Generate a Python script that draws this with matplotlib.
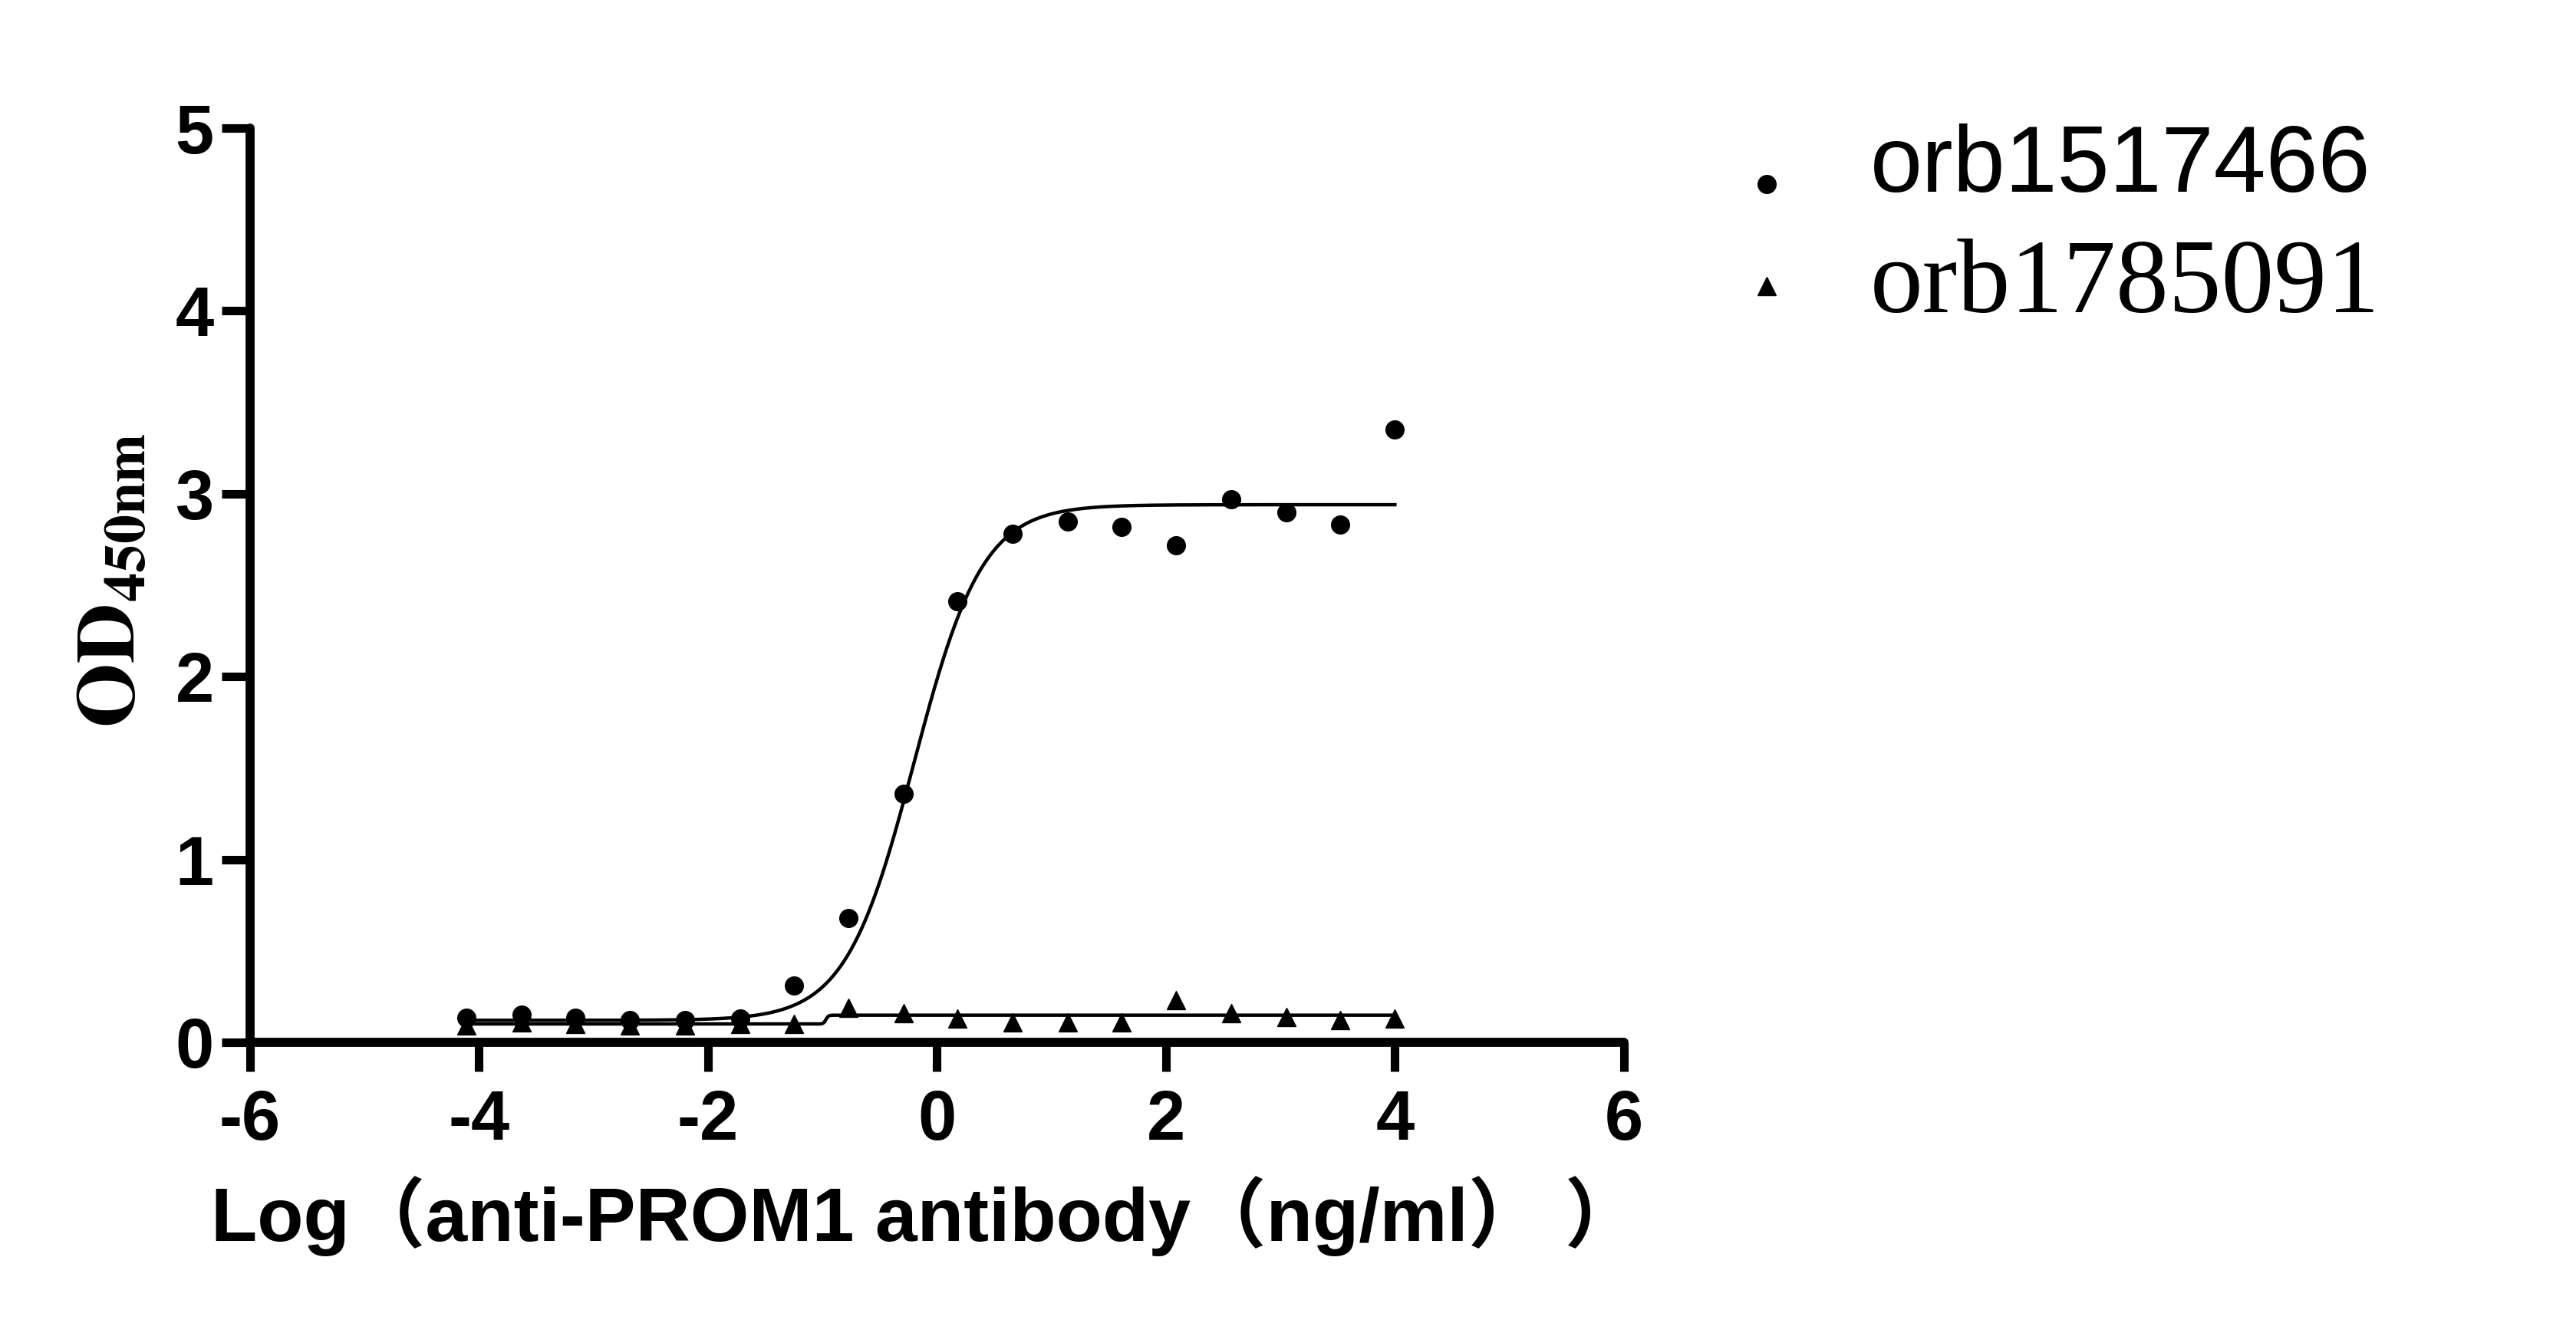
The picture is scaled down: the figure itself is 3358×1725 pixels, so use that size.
import numpy as np
import matplotlib
matplotlib.use("Agg")
import matplotlib.pyplot as plt
from matplotlib.lines import Line2D
from matplotlib.font_manager import FontProperties
from matplotlib.legend_handler import HandlerLine2D

plt.rcParams["mathtext.fontset"] = "stix"

# ---- data ----
log_conc = [4.00, 3.52, 3.05, 2.57, 2.09, 1.61, 1.14, 0.66, 0.18,
            -0.29, -0.77, -1.25, -1.72, -2.20, -2.68, -3.16, -3.63, -4.11]
od_orb1517466 = [3.35, 2.83, 2.90, 2.97, 2.72, 2.82, 2.85, 2.78, 2.41,
                 1.36, 0.68, 0.31, 0.13, 0.12, 0.12, 0.135, 0.15, 0.135]
od_orb1785091 = [0.13, 0.12, 0.14, 0.16, 0.23, 0.11, 0.11, 0.11, 0.13,
                 0.16, 0.19, 0.10, 0.10, 0.09, 0.09, 0.10, 0.11, 0.09]
series_names = ["orb1517466", "orb1785091"]
# four-parameter logistic fit parameters (bottom, top, logEC50, hill)
fit_orb1517466 = [0.12, 2.94, -0.20, 1.45]
fit_orb1785091 = [0.100, 0.148, -0.97, 40.0]
x_ticks = [-6, -4, -2, 0, 2, 4, 6]
y_ticks = [0, 1, 2, 3, 4, 5]
x_label = "Log（anti-PROM1 antibody（ng/ml） ）"
y_label = r"$\mathbf{OD}_{\mathbf{450nm}}$"


def four_pl(x, p):
    b, t, ec, h = p
    return b + (t - b) / (1.0 + 10 ** ((ec - x) * h))


class ShiftedHandler(HandlerLine2D):
    """Legend handler that drops the marker a little below the row centre."""
    def __init__(self, dy, **kw):
        super().__init__(**kw)
        self.dy = dy

    def create_artists(self, legend, orig_handle, xdescent, ydescent,
                       width, height, fontsize, trans):
        arts = super().create_artists(legend, orig_handle, xdescent, ydescent,
                                      width, height, fontsize, trans)
        for a in arts:
            a.set_ydata(np.asarray(a.get_ydata(), dtype=float) - self.dy)
        return arts


fig = plt.figure(figsize=(33.58, 17.25), dpi=100)
ax = fig.add_axes([0.09708, 0.2122, 0.5333, 0.6910])

xs = np.linspace(min(log_conc), max(log_conc), 800)
ax.plot(xs, four_pl(xs, fit_orb1517466), color="black", lw=3.2, zorder=2)
ax.plot(xs, four_pl(xs, fit_orb1785091), color="black", lw=3.2, zorder=2)
ax.plot(log_conc, od_orb1517466, linestyle="none", marker="o", ms=17,
        color="black", zorder=3)
ax.plot(log_conc, od_orb1785091, linestyle="none", marker="^", ms=17,
        color="black", zorder=3)

ax.set_xlim(-6, 6)
ax.set_ylim(0, 5)
ax.set_xticks(x_ticks)
ax.set_yticks(y_ticks)
ax.set_xticklabels([str(v) for v in x_ticks])
ax.set_yticklabels([str(v) for v in y_ticks])
for s in ["top", "right"]:
    ax.spines[s].set_visible(False)
for s in ["left", "bottom"]:
    ax.spines[s].set_linewidth(8.5)
    ax.spines[s].set_capstyle("round")
ax.tick_params(axis="x", length=27, width=8.0, pad=17, direction="out")
ax.tick_params(axis="y", length=27, width=8.0, pad=7, direction="out")
for lab in ax.get_xticklabels() + ax.get_yticklabels():
    lab.set_fontfamily("Liberation Sans")
    lab.set_fontweight("bold")
    lab.set_fontsize(65)

ax.set_xlabel(x_label, fontsize=71, fontweight="bold",
              family=["Liberation Sans", "Noto Sans CJK SC"])
ax.xaxis.label.set_verticalalignment("baseline")
ax.xaxis.set_label_coords(0.492, -0.2173)

ax.set_ylabel(y_label, fontsize=78)
ax.yaxis.label.set_verticalalignment("baseline")
ax.yaxis.set_label_coords(-0.0838, 0.505)

h1 = Line2D([], [], linestyle="none", marker="o", ms=17, color="black")
h2 = Line2D([], [], linestyle="none", marker="^", ms=17, color="black")
leg = fig.legend([h1, h2], series_names, loc="upper left",
                 bbox_to_anchor=(0.6677, 0.9067), frameon=False,
                 fontsize=88, handlelength=1.0, handletextpad=0.6,
                 labelspacing=0.3, borderpad=0.0, borderaxespad=0.0,
                 handler_map={h1: ShiftedHandler(24), h2: ShiftedHandler(6)})
texts = leg.get_texts()
texts[0].set_fontproperties(FontProperties(family="Liberation Sans", size=88))
texts[1].set_fontproperties(FontProperties(family="Liberation Serif", size=99))

fig.savefig("out.png", dpi=100, facecolor="white")
